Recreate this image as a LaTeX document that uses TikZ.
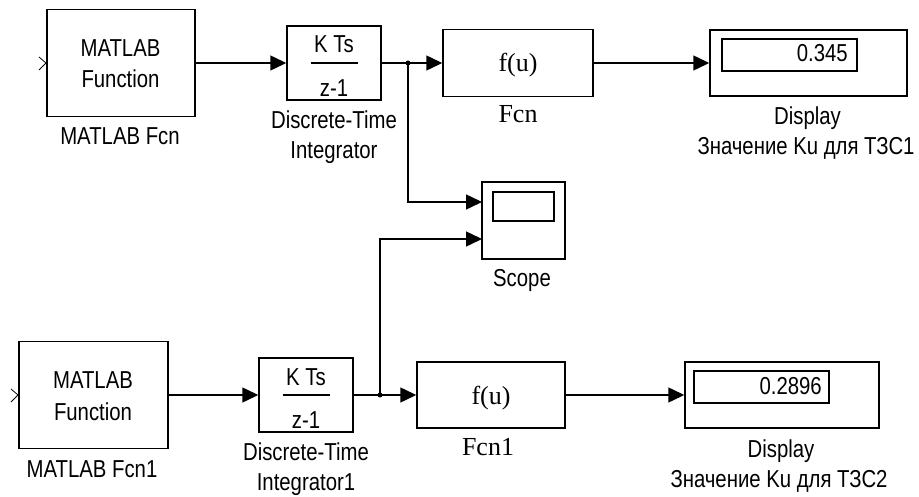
\documentclass[tikz,border=0pt]{standalone}
\usepackage{fontspec}
\setmainfont{Liberation Sans}[FakeStretch=0.83]
\newfontfamily\serf{Liberation Serif}
\usetikzlibrary{arrows.meta}
\begin{document}
\begin{tikzpicture}[x=1pt,y=-1pt,
  blk/.style={draw,line width=1.5pt,inner sep=0pt},
  inbox/.style={draw,line width=1.5pt,inner sep=0pt},
  sl/.style={font=\fontsize{24.5}{30}\selectfont,inner sep=0pt,anchor=base},
  sf/.style={font=\serf\fontsize{26}{30}\selectfont,inner sep=0pt,anchor=base},
  wire/.style={line width=1.5pt},
  arr/.style={wire,-{Triangle[length=16pt,width=15pt]}},
  bdot/.style={circle,fill,inner sep=0pt,minimum size=5pt},
  chev/.style={line width=0.8pt}]
\useasboundingbox (0,0) rectangle (919,497);
\fill[white] (0,0) rectangle (919,497);

% ---------- top row ----------
\node[blk,minimum width=148pt,minimum height=107pt] (mf1) at (121,63) {};
\node[sl] (mf1a) at (120.5,57) {MATLAB};
\node[sl] (mf1b) at (120.5,88) {Function};
\node[sl] (mf1l) at (120,145) {MATLAB Fcn};
\draw[chev] (39,57) -- (46,63) -- (39,70);

\node[blk,minimum width=94pt,minimum height=74pt] (int1) at (334,63) {};
\node[sl] (int1n) at (334,53) {K Ts};
\node[sl] (int1d) at (334,97) {z-1};
\draw[line width=1.5pt] (310.5,63) -- (357.5,63);
\node[sl] (int1l1) at (334,129) {Discrete-Time};
\node[sl] (int1l2) at (334,159) {Integrator};

\node[blk,minimum width=150pt,minimum height=67pt] (fcn) at (518,63) {};
\node[sf] (fcnt) at (518,72) {f(u)};
\node[sf] (fcnl) at (518,123) {Fcn};

\node[blk,minimum width=197pt,minimum height=66pt] (disp1) at (808.5,63) {};
\node[inbox,minimum width=135pt,minimum height=32pt] (disp1i) at (789.5,55) {};
\node[sl,anchor=base east] (disp1v) at (848,62) {0.345};
\node[sl] (disp1l1) at (807.5,125) {Display};
\node[sl] (disp1l2) at (806,155) {Значение Ku для ТЗС1};

\coordinate (b1) at (408,63);
\draw[arr] (mf1.east) -- (int1.west);
\draw[wire] (int1.east) -- (b1);
\draw[arr] (b1) -- (fcn.west);
\draw[arr] (fcn.east) -- (disp1.west);

% ---------- scope ----------
\node[blk,minimum width=83pt,minimum height=77pt] (scope) at (523.5,220.5) {};
\node[inbox,minimum width=61pt,minimum height=29pt] (scopei) at (523.5,206.5) {};
\node[sl] (scopel) at (522,287) {Scope};
\coordinate (s1) at (482,202);
\coordinate (s2) at (482,239);
\draw[arr] (b1) |- (s1);

% ---------- bottom row ----------
\node[blk,minimum width=149pt,minimum height=107pt] (mf2) at (93.5,395) {};
\node[sl] (mf2a) at (93,388) {MATLAB};
\node[sl] (mf2b) at (93,420) {Function};
\node[sl] (mf2l) at (92,477) {MATLAB Fcn1};
\draw[chev] (11,389) -- (18,395) -- (11,402);

\node[blk,minimum width=94pt,minimum height=74pt] (int2) at (306,395) {};
\node[sl] (int2n) at (306,385) {K Ts};
\node[sl] (int2d) at (306,428) {z-1};
\draw[line width=1.5pt] (282.5,395) -- (329.5,395);
\node[sl] (int2l1) at (306,460) {Discrete-Time};
\node[sl] (int2l2) at (306,490) {Integrator1};

\node[blk,minimum width=148pt,minimum height=66pt] (fcn1) at (491,395) {};
\node[sf] (fcn1t) at (491,404) {f(u)};
\node[sf] (fcn1l) at (488,455) {Fcn1};

\node[blk,minimum width=194pt,minimum height=66pt] (disp2) at (782,395) {};
\node[inbox,minimum width=135pt,minimum height=32pt] (disp2i) at (761.5,387) {};
\node[sl,anchor=base east] (disp2v) at (822,394) {0.2896};
\node[sl] (disp2l1) at (781,457) {Display};
\node[sl] (disp2l2) at (779,487) {Значение Ku для ТЗС2};

\coordinate (b2) at (380,395);
\draw[arr] (mf2.east) -- (int2.west);
\draw[wire] (int2.east) -- (b2);
\draw[arr] (b2) -- (fcn1.west);
\draw[arr] (fcn1.east) -- (disp2.west);
\draw[arr] (b2) |- (s2);

\node[bdot] (b1d) at (b1) {};
\node[bdot] (b2d) at (b2) {};
\end{tikzpicture}
\end{document}
